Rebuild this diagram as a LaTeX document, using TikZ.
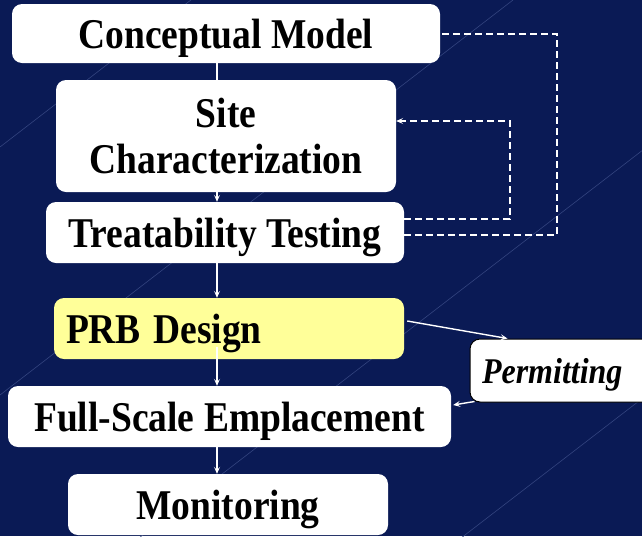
\documentclass[tikz,border=0pt]{standalone}
\usepackage{fontspec}
\setmainfont{Liberation Serif}
\usetikzlibrary{arrows.meta,calc}
\definecolor{bgnavy}{HTML}{0A1A55}
\definecolor{bgline}{HTML}{33447F}
\definecolor{prbyellow}{HTML}{FFFF99}
\newcommand{\tallt}[1]{\scalebox{1}[1.13]{#1}}
\begin{document}
\begin{tikzpicture}[x=1pt,y=-1pt,
  stepbox/.style={draw=none,fill=white,rounded corners=10pt,inner sep=0pt,text depth=0pt,
    font=\fontsize{37.5}{46}\selectfont\bfseries,text=black,align=center},
  flow/.style={draw=white,line width=1.4pt,-{Stealth[length=7pt,width=6pt,inset=3pt]}},
  plainflow/.style={draw=white,line width=1.4pt},
  loop/.style={draw=white,line width=1.4pt,dash pattern=on 7pt off 4pt},
  deco/.style={draw=bgline,line width=0.6pt}]
\useasboundingbox (0,0) rectangle (642,536);
\clip (0,0) rectangle (642,536);
\fill[bgnavy] (0,0) rectangle (642,536);
% faint background diagonals
\foreach \c in {147,395,645,893}{
  \draw[deco] (0,\c) -- ({\c/0.77},0);
}
% nodes
\node[stepbox,minimum width=428pt,minimum height=59pt] (concept) at (226,33.5) {\tallt{Conceptual Model}};
\node[stepbox,minimum width=340pt,minimum height=112pt] (site) at (226,136) {\tallt{Site}\\\tallt{Characterization}};
\node[stepbox,minimum width=358pt,minimum height=61pt] (treat) at (225,232.5) {\tallt{Treatability Testing}};
\node[stepbox,fill=prbyellow,minimum width=350pt,minimum height=61pt,text width=326pt,align=left,inner xsep=12pt,inner ysep=0pt] (prb) at (229,328.5) {\tallt{PRB Design}};
\node[stepbox,minimum width=443pt,minimum height=61pt] (full) at (229.5,416.5) {\tallt{Full-Scale Emplacement}};
\node[stepbox,minimum width=320pt,minimum height=61pt] (mon) at (228,504.5) {\tallt{Monitoring}};
\node[stepbox,draw=black,line width=1pt,font=\fontsize{32}{36}\selectfont\bfseries\itshape,minimum width=200pt,minimum height=63pt,text width=176pt,align=left,inner xsep=12pt,inner ysep=0pt] (perm) at (570,370.5) {\tallt{Permitting}};
% spine
\coordinate (spine) at (217,0);
\coordinate (prbin) at (217,347);
\draw[plainflow] (concept.south -| spine) -- (site.north -| spine);
\draw[flow] (site.south -| spine) -- (treat.north -| spine);
\draw[flow] (treat.south -| spine) -- (prb.north -| spine);
\draw[flow] (prbin) -- (full.north -| spine);
\draw[flow] (full.south -| spine) -- (mon.north -| spine);
% permitting branch
\coordinate (prbout) at ($(prb.east)+(3,-7.5)$);
\coordinate (permin) at ($(perm.north west)+(38,0)$);
\coordinate (permout) at ($(perm.south west)+(5,-1)$);
\coordinate (fullin) at ($(full.east)+(2,-11.5)$);
\draw[flow] (prbout) -- (permin);
\draw[flow] (permout) -- (fullin);
% feedback loops
\coordinate (outerx) at (557,0);
\coordinate (innerx) at (510,0);
\coordinate (treatlow) at ($(treat.east)+(0,2.5)$);
\coordinate (treathigh) at ($(treat.east)+(0,-13.5)$);
\coordinate (conceptr) at ($(concept.east)+(0,0.5)$);
\coordinate (siter) at ($(site.east)+(0,-15)$);
\draw[loop] (treatlow) -- (treatlow -| outerx) -- (conceptr -| outerx) -- (conceptr);
\draw[loop,-{Stealth[length=7pt,width=6pt,inset=3pt]}] (treathigh) -- (treathigh -| innerx) -- (siter -| innerx) -- (siter);
\end{tikzpicture}
\end{document}
